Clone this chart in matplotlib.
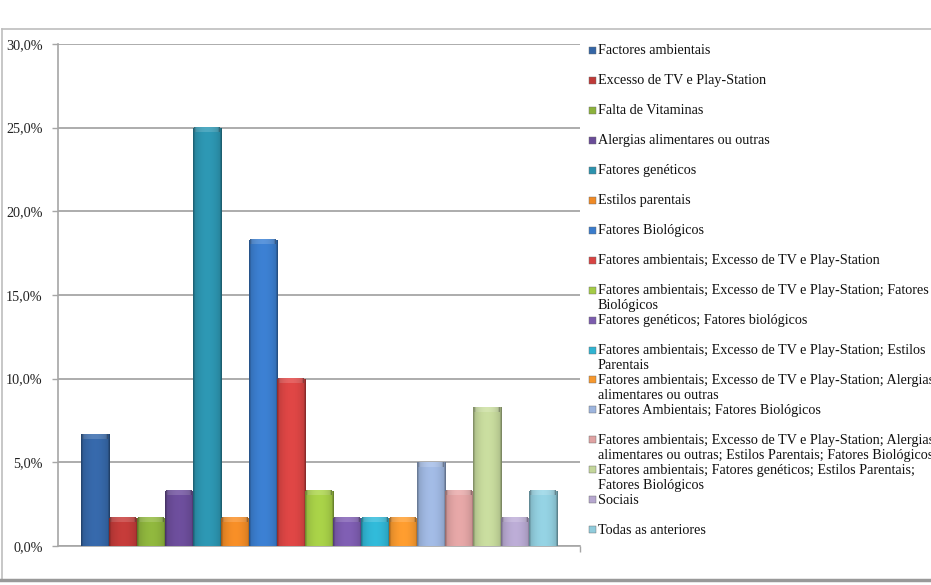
import numpy as np
import matplotlib
matplotlib.use("Agg")
import matplotlib.pyplot as plt
from matplotlib.colors import to_rgb
from matplotlib.patches import Rectangle

categories = [
    "Factores ambientais",
    "Excesso de TV e Play-Station",
    "Falta de Vitaminas",
    "Alergias alimentares ou outras",
    "Fatores genéticos",
    "Estilos parentais",
    "Fatores Biológicos",
    "Fatores ambientais; Excesso de TV e Play-Station",
    "Fatores ambientais; Excesso de TV e Play-Station; Fatores\nBiológicos",
    "Fatores genéticos; Fatores biológicos",
    "Fatores ambientais; Excesso de TV e Play-Station; Estilos\nParentais",
    "Fatores ambientais; Excesso de TV e Play-Station; Alergias\nalimentares ou outras",
    "Fatores Ambientais; Fatores Biológicos",
    "Fatores ambientais; Excesso de TV e Play-Station; Alergias\nalimentares ou outras; Estilos Parentais; Fatores Biológicos",
    "Fatores ambientais; Fatores genéticos; Estilos Parentais;\nFatores Biológicos",
    "Sociais",
    "Todas as anteriores",
]
values = [6.7, 1.7, 1.7, 3.3, 25.0, 1.7, 18.3, 10.0, 3.3, 1.7, 1.7, 1.7, 5.0, 3.3, 8.3, 1.7, 3.3]
colors = ["#3566a6", "#bf3a38", "#8cb23c", "#6a4c98", "#2c93ae", "#ef8a26",
          "#3a7ccc", "#d84443", "#a4cc46", "#7c5cae", "#30b4d2", "#f6982e",
          "#9db5de", "#dfa2a2", "#c3d69a", "#b6a7cf", "#90ccdc"]
yticks = [0, 5, 10, 15, 20, 25, 30]
ytick_labels = ["0,0%", "5,0%", "10,0%", "15,0%", "20,0%", "25,0%", "30,0%"]

W, H = 931, 585
fig = plt.figure(figsize=(W / 100, H / 100), dpi=100)
fig.patch.set_facecolor("white")
serif = ["Liberation Serif", "DejaVu Serif"]
FS = 10.2

ax = fig.add_axes([58 / W, 1 - 546 / H, (580 - 58) / W, (546 - 44) / H])
x = np.arange(len(values))
bars = ax.bar(x, values, width=1.0, color=colors, zorder=2, linewidth=0)

# Gradient shading for each bar (Excel-like bevel)
prof = np.linspace(0, 1, 40)
shade = 0.82 + 0.22 * np.sin(np.pi * prof) ** 0.6
shade[:2] = 0.68
shade[-2:] = 0.64
cap_h = 0.28
for b, c in zip(bars, colors):
    rgb = np.array(to_rgb(c))
    x0, w, h = b.get_x(), b.get_width(), b.get_height()
    img = np.clip(rgb[None, None, :] * shade[None, :, None], 0, 1)
    im = ax.imshow(img, extent=(x0, x0 + w, 0, h), aspect="auto", zorder=3,
                   interpolation="bilinear")
    im.set_clip_path(b)
    cap = np.clip(rgb + (1 - rgb) * 0.15, 0, 1)
    capimg = np.clip(cap[None, None, :] * shade[None, :, None], 0, 1)
    ax.imshow(capimg, extent=(x0 + 0.05, x0 + w - 0.05, h - cap_h, h),
              aspect="auto", zorder=4, interpolation="bilinear")
    b.set_visible(False)

ax.set_xlim(-0.5 - 0.82, len(values) - 0.5 + 0.82)
ax.set_ylim(0, 30)
ax.set_yticks(yticks)
ax.set_yticklabels(ytick_labels, fontfamily=serif, fontsize=FS, color="#222222")
ax.yaxis.grid(True, color="#a6a6a6", linewidth=1.3, zorder=0)
ax.set_axisbelow(True)
ax.set_xticks([len(values) - 0.5 + 0.82])
ax.set_xticklabels([""])
ax.tick_params(axis="x", direction="out", length=4, color="#a6a6a6", width=1)
ax.tick_params(axis="y", direction="out", length=4, color="#a6a6a6", width=1, pad=7)
for s in ["top", "right"]:
    ax.spines[s].set_visible(False)
for s in ["left", "bottom"]:
    ax.spines[s].set_color("#a6a6a6")
    ax.spines[s].set_linewidth(1.2)

# Legend (manual, Excel style)
y0 = 50
step = 29.95
for i, (lab, c) in enumerate(zip(categories, colors)):
    yc = y0 + i * step
    fig.patches.append(Rectangle(((589) / W, 1 - (yc + 4) / H), 7 / W, 7 / H,
                                 transform=fig.transFigure, facecolor=c,
                                 edgecolor="#666666", linewidth=0.3))
    fig.text(598 / W, 1 - (yc - 5.5) / H, lab, fontfamily=serif, fontsize=FS,
             va="top", ha="left", color="#111111", linespacing=1.17)

# Outer frame
fig.add_artist(plt.Line2D([2 / W, 1], [1 - 29 / H, 1 - 29 / H], transform=fig.transFigure,
                          color="#bdbdbd", linewidth=1.2))
fig.add_artist(plt.Line2D([2 / W, 2 / W], [1 - 29 / H, 1 - 580 / H], transform=fig.transFigure,
                          color="#bdbdbd", linewidth=1.2))
fig.add_artist(plt.Line2D([0, 1], [1 - 580 / H, 1 - 580 / H], transform=fig.transFigure,
                          color="#999999", linewidth=2.5))

fig.savefig("out.png", dpi=100)
